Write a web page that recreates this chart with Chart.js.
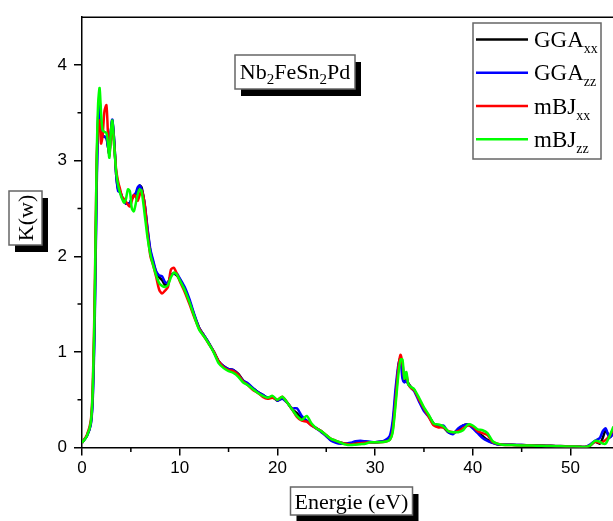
<!DOCTYPE html>
<html><head><meta charset="utf-8">
<script src="https://cdn.jsdelivr.net/npm/chart.js@4.4.0/dist/chart.umd.min.js"></script>
<style>html,body{margin:0;padding:0;background:#fff}#wrap{width:613px;height:521px;position:relative}</style>
</head><body><div id="wrap"><canvas id="c" width="613" height="521"></canvas></div>
<script>
const energy = [0,0.5,0.9,1.1,1.3,1.5,1.65,1.8,1.95,2.1,2.3,2.5,2.65,2.8,2.95,3.1,3.3,3.5,3.7,3.9,4.1,4.3,4.5,4.7,4.9,5.1,5.3,5.5,5.7,5.9,6.1,6.4,6.7,7.0,7.3,7.6,7.9,8.2,8.5,8.8,9.1,9.4,9.7,10.0,10.5,11.0,11.5,12.0,12.5,13.0,13.5,14.0,14.5,15.0,15.5,16.0,16.5,17.0,17.5,18.0,18.5,19.0,19.5,20.0,20.5,21.0,21.5,22.0,22.5,23.0,23.5,24.0,24.5,25.0,25.5,26.0,26.5,27.0,27.5,28.0,28.5,29.0,29.5,30.0,30.5,31.0,31.5,31.8,32.1,32.4,32.6,32.8,33.0,33.2,33.4,33.7,34.0,34.5,35.0,35.5,36.0,36.5,37.0,37.5,38.0,38.5,39.0,39.5,40.0,40.5,41.0,41.5,42.0,42.5,43.0,44,45,46,47,48,49,50,51,51.5,52.0,52.5,53.0,53.3,53.6,54.0,54.4];
const ggaXX = [0.05,0.12,0.25,0.55,1.4,2.8,3.45,3.63,3.35,3.26,3.25,3.24,3.15,3.07,3.3,3.42,3.2,2.85,2.7,2.68,2.62,2.58,2.55,2.55,2.56,2.6,2.63,2.64,2.7,2.74,2.72,2.55,2.28,2.05,1.93,1.83,1.78,1.75,1.7,1.72,1.8,1.82,1.8,1.76,1.66,1.53,1.38,1.25,1.17,1.09,1.0,0.9,0.85,0.82,0.81,0.77,0.7,0.66,0.62,0.58,0.55,0.52,0.53,0.49,0.52,0.47,0.4,0.36,0.3,0.28,0.24,0.2,0.17,0.12,0.08,0.06,0.05,0.04,0.04,0.05,0.06,0.06,0.055,0.055,0.06,0.07,0.1,0.22,0.55,0.85,0.94,0.8,0.7,0.72,0.67,0.63,0.6,0.5,0.4,0.33,0.25,0.22,0.21,0.16,0.15,0.19,0.23,0.24,0.22,0.16,0.12,0.08,0.05,0.035,0.03,0.028,0.025,0.022,0.02,0.018,0.015,0.01,0.008,0.005,0.02,0.06,0.04,0.1,0.18,0.11,0.15];
const ggaZZ = [0.05,0.12,0.24,0.5,1.3,2.7,3.4,3.62,3.35,3.26,3.25,3.24,3.15,3.07,3.3,3.43,3.2,2.85,2.68,2.67,2.62,2.58,2.55,2.55,2.56,2.6,2.64,2.66,2.72,2.74,2.7,2.56,2.3,2.07,1.95,1.84,1.8,1.79,1.73,1.72,1.8,1.82,1.82,1.77,1.68,1.55,1.39,1.25,1.17,1.09,1.0,0.9,0.85,0.82,0.81,0.76,0.7,0.67,0.62,0.58,0.55,0.52,0.53,0.49,0.51,0.47,0.41,0.41,0.33,0.28,0.23,0.2,0.16,0.12,0.07,0.05,0.04,0.04,0.05,0.065,0.07,0.065,0.06,0.055,0.06,0.075,0.12,0.28,0.62,0.88,0.93,0.72,0.68,0.7,0.66,0.62,0.59,0.48,0.38,0.32,0.24,0.22,0.23,0.16,0.14,0.2,0.23,0.24,0.2,0.15,0.1,0.07,0.05,0.035,0.03,0.028,0.025,0.02,0.018,0.015,0.012,0.01,0.008,0.005,0.03,0.07,0.1,0.17,0.2,0.1,0.15];
const mbjXX = [0.05,0.13,0.28,0.65,1.6,3.0,3.35,3.42,3.18,3.25,3.52,3.58,3.3,3.05,3.25,3.38,3.15,2.9,2.78,2.7,2.62,2.6,2.57,2.54,2.52,2.58,2.64,2.62,2.58,2.64,2.69,2.55,2.25,2.0,1.9,1.78,1.65,1.61,1.64,1.68,1.86,1.88,1.82,1.74,1.63,1.5,1.36,1.24,1.16,1.08,1.0,0.9,0.84,0.81,0.8,0.76,0.69,0.65,0.6,0.57,0.53,0.51,0.52,0.5,0.53,0.47,0.4,0.32,0.28,0.27,0.23,0.2,0.17,0.13,0.09,0.07,0.05,0.04,0.03,0.04,0.045,0.05,0.055,0.055,0.055,0.06,0.08,0.18,0.5,0.85,0.97,0.88,0.72,0.76,0.66,0.62,0.6,0.5,0.41,0.32,0.23,0.21,0.21,0.17,0.16,0.17,0.2,0.23,0.22,0.17,0.15,0.13,0.06,0.04,0.03,0.025,0.022,0.02,0.018,0.015,0.012,0.01,0.008,0.005,0.02,0.06,0.05,0.06,0.08,0.12,0.2];
const mbjZZ = [0.05,0.12,0.26,0.6,1.5,3.0,3.6,3.76,3.5,3.32,3.3,3.29,3.18,3.03,3.28,3.42,3.15,2.88,2.74,2.66,2.6,2.56,2.6,2.7,2.68,2.5,2.47,2.55,2.65,2.7,2.68,2.45,2.2,2.02,1.9,1.8,1.72,1.69,1.68,1.7,1.78,1.83,1.81,1.75,1.65,1.52,1.37,1.23,1.16,1.08,0.99,0.88,0.83,0.8,0.78,0.74,0.68,0.65,0.61,0.57,0.54,0.52,0.54,0.5,0.53,0.47,0.4,0.33,0.29,0.33,0.25,0.2,0.17,0.13,0.09,0.07,0.05,0.03,0.025,0.03,0.035,0.04,0.055,0.055,0.055,0.06,0.08,0.16,0.45,0.78,0.92,0.92,0.72,0.79,0.66,0.63,0.61,0.52,0.42,0.34,0.25,0.24,0.22,0.17,0.16,0.16,0.18,0.24,0.23,0.19,0.18,0.15,0.07,0.04,0.03,0.025,0.022,0.02,0.018,0.015,0.012,0.01,0.008,0.005,0.02,0.07,0.06,0.04,0.04,0.12,0.22];
const xTicks = [0,10,20,30,40,50];
const yTicks = [0,1,2,3,4];
const xMinor = [5,15,25,35,45];
const yMinor = [0.5,1.5,2.5,3.5];
const seriesNames = [['GGA','xx'],['GGA','zz'],['mBJ','xx'],['mBJ','zz']];
const seriesColors = ['#000000','#0000ff','#ff0000','#00ff00'];
const seriesValues = [ggaXX, ggaZZ, mbjXX, mbjZZ];

const SERIF = '"Liberation Serif","Times New Roman",serif';
const SANS = '"Liberation Sans",Arial,sans-serif';

function drawParts(ctx, parts, x, baseline, mainSize, subSize, subDy){
  let cx = x;
  parts.forEach(([t, sub]) => {
    ctx.font = (sub ? subSize : mainSize) + 'px ' + SERIF;
    ctx.fillText(t, cx, baseline + (sub ? subDy : 0));
    cx += ctx.measureText(t).width;
  });
  return cx - x;
}
function partsWidth(ctx, parts, mainSize, subSize){
  let w = 0;
  parts.forEach(([t, sub]) => { ctx.font = (sub ? subSize : mainSize) + 'px ' + SERIF; w += ctx.measureText(t).width; });
  return w;
}
function shadowBox(ctx, x, y, w, h){
  ctx.fillStyle = '#000';
  ctx.fillRect(x + 6, y + 7, w, h);
  ctx.fillStyle = '#fff';
  ctx.fillRect(x, y, w, h);
  ctx.strokeStyle = '#666';
  ctx.lineWidth = 1.5;
  ctx.strokeRect(x, y, w, h);
}

const deco = {
  id: 'deco',
  afterDraw(chart){
    const {ctx, chartArea: a, scales: {x, y}} = chart;
    ctx.save();
    ctx.strokeStyle = '#000'; ctx.lineWidth = 1.5;
    ctx.beginPath(); ctx.moveTo(a.left, a.top); ctx.lineTo(a.right, a.top); ctx.stroke();
    ctx.beginPath();
    xMinor.forEach(v => { const px = x.getPixelForValue(v); ctx.moveTo(px, a.bottom); ctx.lineTo(px, a.bottom + 4.5); });
    yMinor.forEach(v => { const py = y.getPixelForValue(v); ctx.moveTo(a.left, py); ctx.lineTo(a.left - 4.5, py); });
    ctx.stroke();

    // legend
    ctx.fillStyle = '#fff'; ctx.fillRect(473, 23, 128, 136);
    ctx.strokeStyle = '#666'; ctx.lineWidth = 1.5; ctx.strokeRect(473, 23, 128, 136);
    const rows = [39.5, 72.8, 106, 139.3];
    seriesNames.forEach((nm, i) => {
      ctx.strokeStyle = seriesColors[i]; ctx.lineWidth = 2.5;
      ctx.beginPath(); ctx.moveTo(476, rows[i]); ctx.lineTo(528, rows[i]); ctx.stroke();
      ctx.fillStyle = '#000'; ctx.textAlign = 'left'; ctx.textBaseline = 'alphabetic';
      drawParts(ctx, [[nm[0], false], [nm[1], true]], 534, rows[i] + 7.5, 23, 14, 6);
    });

    // compound title box
    const tParts = [['Nb',false],['2',true],['FeSn',false],['2',true],['Pd',false]];
    shadowBox(ctx, 235, 55, 120, 34);
    ctx.fillStyle = '#000';
    const tw = partsWidth(ctx, tParts, 22, 15);
    drawParts(ctx, tParts, 295 - tw / 2, 79, 22, 15, 5);

    // x axis title box
    shadowBox(ctx, 290.5, 487, 122, 28);
    ctx.fillStyle = '#000'; ctx.font = '22px ' + SERIF; ctx.textAlign = 'center';
    ctx.fillText('Energie (eV)', 351.5, 508.5);

    // y axis title box
    shadowBox(ctx, 9, 191, 33, 54);
    ctx.save();
    ctx.translate(25.5, 218); ctx.rotate(-Math.PI / 2);
    ctx.fillStyle = '#000'; ctx.font = '22px ' + SERIF; ctx.textAlign = 'center';
    ctx.fillText('K(w)', 0, 7.5);
    ctx.restore();
    ctx.restore();
  }
};

const datasets = seriesValues.map((vals, i) => ({
  label: seriesNames[i].join(''),
  data: energy.map((e, j) => ({x: e, y: vals[j]})),
  borderColor: seriesColors[i],
  borderWidth: 2.5,
  pointRadius: 0,
  tension: 0.25,
  fill: false,
  order: 4 - i
}));

new Chart(document.getElementById('c'), {
  type: 'line',
  data: {datasets},
  plugins: [deco],
  options: {
    responsive: false,
    animation: false,
    parsing: true,
    layout: {padding: {top: 13, right: 0, left: 0, bottom: 0}},
    plugins: {legend: {display: false}, tooltip: {enabled: false}},
    scales: {
      x: {
        type: 'linear', min: 0, max: 54.35, position: 'bottom',
        afterBuildTicks: s => { s.ticks = xTicks.map(v => ({value: v})); },
        afterFit: s => { s.height = 73.5; },
        ticks: {font: {family: SANS, size: 17}, color: '#000', padding: 3, maxRotation: 0, autoSkip: false},
        grid: {drawOnChartArea: false, drawTicks: true, tickLength: 8, color: '#000', lineWidth: 1.5},
        border: {display: true, color: '#000', width: 1.5}
      },
      y: {
        type: 'linear', min: 0, max: 4.5,
        afterBuildTicks: s => { s.ticks = yTicks.map(v => ({value: v})); },
        afterFit: s => { s.width = 82; },
        ticks: {font: {family: SANS, size: 17}, color: '#000', padding: 7, autoSkip: false},
        grid: {drawOnChartArea: false, drawTicks: true, tickLength: 8, color: '#000', lineWidth: 1.5},
        border: {display: true, color: '#000', width: 1.5}
      }
    }
  }
});
</script>
</body></html>
